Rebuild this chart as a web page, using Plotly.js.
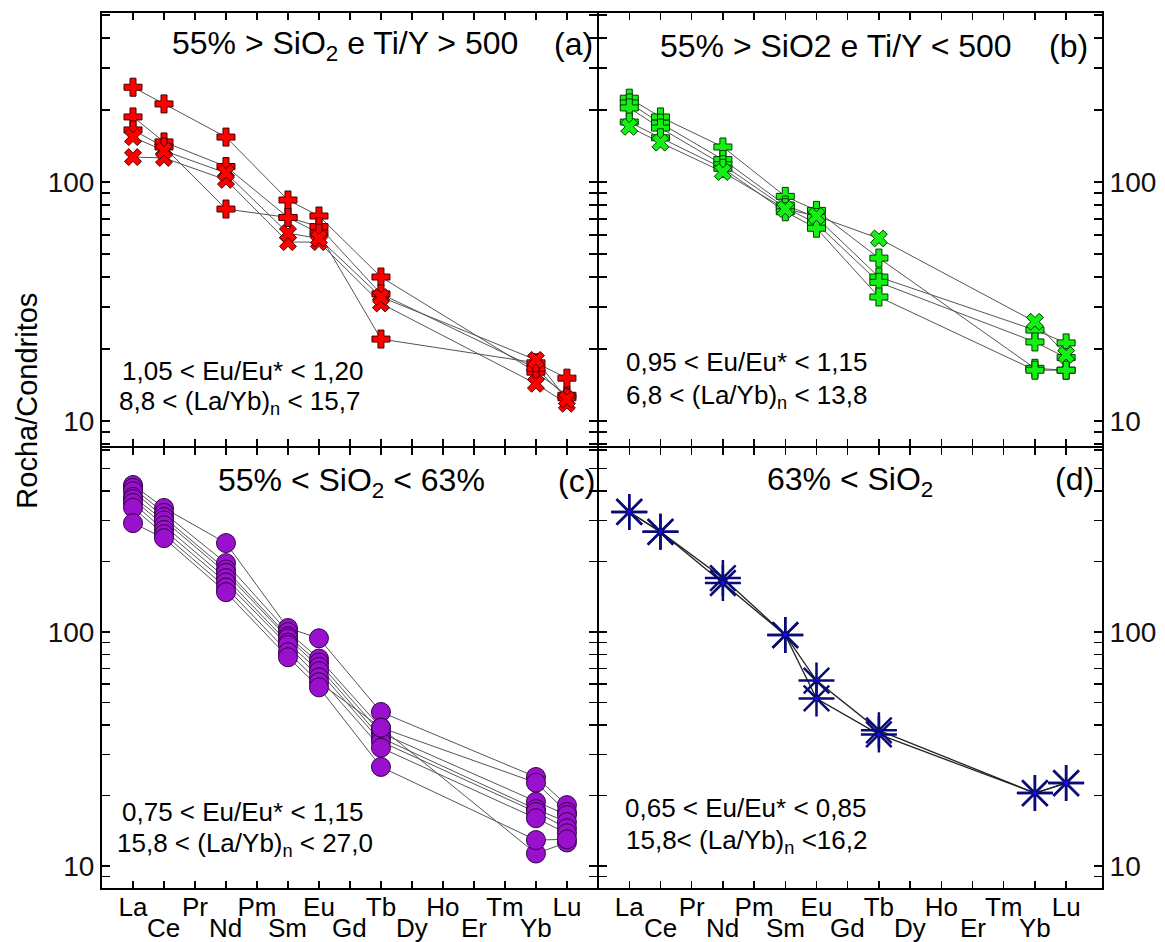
<!DOCTYPE html>
<html>
<head>
<meta charset="utf-8">
<script src="https://cdn.plot.ly/plotly-3.0.1.min.js"></script>
<style>html,body{margin:0;padding:0;background:#fff;}#chart{width:1165px;height:942px;}</style>
</head>
<body>
<div id="chart"></div>
<script>
// ---------- data ----------
const ELEMENTS = ['La','Ce','Pr','Nd','Pm','Sm','Eu','Gd','Tb','Dy','Ho','Er','Tm','Yb','Lu'];
const MEASURED = ['La','Ce','Nd','Sm','Eu','Tb','Yb','Lu'];

// Panel (a): 55% > SiO2 e Ti/Y > 500
const A_CROSS_1 = [249, 212, 154, 84, 72, 40, 16.0, 12.8];
const A_CROSS_2 = [187, 147, 116, 71, 65, 34, 16.6, 12.5];
const A_CROSS_3 = [165, 140, 77, 71, 61, 22, 17.5, 15.1];
const A_X_1     = [127, 126, 102, 56, 56, 31, 14.3, 11.8];
const A_X_2     = [154, 135, 109, 61, 58, 33, 18.0, 12.3];

// Panel (b): 55% > SiO2 e Ti/Y < 500
const B_CROSS_1 = [224, 187, 140, 87, 76, 48, 16.6, 16.3];
const B_CROSS_2 = [214, 176, 124, 80, 71, 40, 24.0, 21.2];
const B_CROSS_3 = [204, 168, 118, 78, 67, 38, 21.4, 18.4];
const B_CROSS_4 = [178, 153, 114, 75, 64, 33, 16.3, 16.3];
const B_X_1     = [170, 146, 110, 77, 72, 58, 26.0, 18.9];

// Panel (c): 55% < SiO2 < 63%
const C_1 = [425, 339, 240, 104, 94, 45.5, 24.0, 18.2];
const C_2 = [413, 323, 197, 100, 77, 39, 22.7, 17.0];
const C_3 = [400, 310, 185, 96, 74, 37, 18.8, 16.5];
const C_4 = [378, 300, 179, 94, 71, 35.3, 17.5, 15.4];
const C_5 = [370, 286, 170, 90, 68, 34, 17.0, 14.5];
const C_6 = [356, 273, 163, 88, 64, 32, 16.0, 13.8];
const C_7 = [340, 262, 155, 82, 61, 39, 11.3, 12.6];
const C_8 = [292, 252, 148, 78, 58, 26.5, 12.9, 13.0];

// Panel (d): 63% < SiO2
const D_1 = [326, 268, 170, 97, 62, 38, 20.5, 22.6];
const D_2 = [326, 268, 162, 97, 52, 36.5, 20.5, 22.6];

// tick labels
const ROW1_IDX = [0,2,4,6,8,10,12,14];
const ROW2_IDX = [1,3,5,7,9,11,13];
const Y_TICKS = [10, 100];
const Y_TICK_TEXT = ['10', '100'];
const Y_MINOR = [8, 9, 20, 30, 40, 50, 60, 70, 80, 90, 200, 300, 400, 500, 600];

// ---------- build ----------
const FONT = 'Liberation Sans, Arial, Helvetica, sans-serif';
const xIdx = MEASURED.map(e => ELEMENTS.indexOf(e));

const panels = [
  {xa:'x', ya:'y', lineColor:'#555', lineW:1, samples:[
    {v:A_CROSS_1, sym:'cross'}, {v:A_CROSS_2, sym:'cross'}, {v:A_CROSS_3, sym:'cross'},
    {v:A_X_1, sym:'x'}, {v:A_X_2, sym:'x'}],
    marker:{size:15, color:'#ff0000', line:{color:'rgb(70,0,0)', width:1}}},
  {xa:'x2', ya:'y2', lineColor:'#555', lineW:1, samples:[
    {v:B_CROSS_1, sym:'cross'}, {v:B_CROSS_2, sym:'cross'}, {v:B_CROSS_3, sym:'cross'},
    {v:B_CROSS_4, sym:'cross'}, {v:B_X_1, sym:'x'}],
    marker:{size:15, color:'rgb(20,240,20)', line:{color:'rgb(0,60,0)', width:1}}},
  {xa:'x3', ya:'y3', lineColor:'#555', lineW:1, samples:[
    C_1, C_2, C_3, C_4, C_5, C_6, C_7, C_8].map(v => ({v:v, sym:'circle'})),
    marker:{size:19, color:'rgb(153,17,204)', line:{color:'rgb(50,0,70)', width:1}}},
  {xa:'x4', ya:'y4', lineColor:'#222', lineW:1.3, samples:[
    {v:D_1, sym:'asterisk-open'}, {v:D_2, sym:'asterisk-open'}],
    marker:{size:30, color:'rgb(10,10,120)', line:{color:'rgb(10,10,120)', width:2.5}}}
];

const lineTraces = [], markerTraces = [];
panels.forEach(p => {
  p.samples.forEach(s => {
    lineTraces.push({type:'scatter', mode:'lines', x:xIdx, y:s.v, xaxis:p.xa, yaxis:p.ya,
      line:{color:p.lineColor, width:p.lineW}, hoverinfo:'skip'});
    markerTraces.push({type:'scatter', mode:'markers', x:xIdx, y:s.v, xaxis:p.xa, yaxis:p.ya,
      marker:Object.assign({}, p.marker, {symbol:s.sym}), hoverinfo:'x+y'});
    if (s.sym === 'asterisk-open') {
      markerTraces.push({type:'scatter', mode:'markers', x:xIdx, y:s.v, xaxis:p.xa, yaxis:p.ya,
        marker:{size:4, color:'#1010ff'}, hoverinfo:'skip'});
    }
  });
});

const xbase = {
  tickmode:'array', tickvals:ROW1_IDX, ticktext:ROW1_IDX.map(i => ELEMENTS[i]),
  ticks:'inside', ticklen:7, tickwidth:1.5, tickcolor:'#000', ticklabelstandoff:-5,
  minor:{tickvals:ROW2_IDX, ticks:'inside', ticklen:7, tickwidth:1.5, tickcolor:'#000', showgrid:false},
  showline:true, linewidth:2, linecolor:'#000', mirror:'ticks',
  showgrid:false, zeroline:false, tickfont:{size:26, family:FONT, color:'#000'}, fixedrange:true
};
const ybase = {
  type:'log', tickmode:'array', tickvals:Y_TICKS, ticktext:Y_TICK_TEXT,
  ticks:'inside', ticklen:8, tickwidth:1.5, tickcolor:'#000',
  minor:{tickvals:Y_MINOR, ticks:'inside', ticklen:8, tickwidth:1.5, tickcolor:'#000', showgrid:false},
  showline:true, linewidth:2, linecolor:'#000', mirror:'ticks',
  showgrid:false, zeroline:false, tickfont:{size:28, family:FONT, color:'#111'}, fixedrange:true
};
const TOP_RANGE = [Math.log10(7.85), Math.log10(509)];
const BOT_RANGE = [Math.log10(8.05), Math.log10(612)];
const XL = [-1, 14.97], XR = [-0.97, 15.15];

const ann = (text, x, y, size, xanchor) => ({text:text, x:x, y:y, xref:'paper', yref:'paper',
  xanchor:xanchor || 'center', yanchor:'middle', showarrow:false, font:{size:size, family:FONT, color:'#000'}});

// second (staggered) row of element labels, placed on the category positions of x3 / x4
const row2Labels = [];
['x3', 'x4'].forEach(xr => {
  ROW2_IDX.forEach(i => {
    row2Labels.push({text:ELEMENTS[i], x:i, xref:xr, y:-0.0457, yref:'paper',
      xanchor:'center', yanchor:'middle', showarrow:false, font:{size:26, family:FONT, color:'#000'}});
  });
});

const layout = {
  width:1165, height:942, margin:{l:102, r:63, t:13, b:54},
  paper_bgcolor:'#fff', plot_bgcolor:'#fff', showlegend:false,
  font:{family:FONT, color:'#000'},
  xaxis:  Object.assign({}, xbase, {domain:[0,0.495], anchor:'y',  range:XL, showticklabels:false}),
  xaxis2: Object.assign({}, xbase, {domain:[0.497,1], anchor:'y2', range:XR, showticklabels:false}),
  xaxis3: Object.assign({}, xbase, {domain:[0,0.495], anchor:'y3', range:XL}),
  xaxis4: Object.assign({}, xbase, {domain:[0.497,1], anchor:'y4', range:XR}),
  yaxis:  Object.assign({}, ybase, {domain:[0.5051,1], anchor:'x',  range:TOP_RANGE, side:'left'}),
  yaxis2: Object.assign({}, ybase, {domain:[0.5051,1], anchor:'x2', range:TOP_RANGE, side:'right'}),
  yaxis3: Object.assign({}, ybase, {domain:[0,0.5029], anchor:'x3', range:BOT_RANGE, side:'left'}),
  yaxis4: Object.assign({}, ybase, {domain:[0,0.5029], anchor:'x4', range:BOT_RANGE, side:'right'}),
  annotations:[
    ann('55% > SiO<sub>2</sub> e Ti/Y > 500', 0.243, 0.963, 32),
    ann('(a)', 0.471, 0.965, 32),
    ann('55% > SiO2 e Ti/Y < 500', 0.734, 0.962, 32),
    ann('(b)', 0.966, 0.962, 32),
    ann('55% < SiO<sub>2</sub> < 63%', 0.249, 0.463, 32),
    ann('(c)', 0.474, 0.465, 32),
    ann('63% < SiO<sub>2</sub>', 0.748, 0.465, 32),
    ann('(d)', 0.972, 0.467, 32),
    ann('1,05 < Eu/Eu* < 1,20', 0.018, 0.591, 26, 'left'),
    ann('8,8 < (La/Yb)<sub>n</sub> < 15,7', 0.015, 0.555, 26, 'left'),
    ann('0,95 < Eu/Eu* < 1,15', 0.522, 0.6006, 26, 'left'),
    ann('6,8 < (La/Yb)<sub>n</sub> < 13,8', 0.522, 0.562, 26, 'left'),
    ann('0,75 < Eu/Eu* < 1,15', 0.018, 0.0874, 26, 'left'),
    ann('15,8 < (La/Yb)<sub>n</sub> < 27,0', 0.013, 0.050, 26, 'left'),
    ann('0,65 < Eu/Eu* < 0,85', 0.521, 0.092, 26, 'left'),
    ann('15,8< (La/Yb)<sub>n</sub> <16,2', 0.522, 0.0535, 26, 'left'),
    Object.assign(ann('Rocha/Condritos', -0.075, 0.557, 29), {textangle:-90})
  ].concat(row2Labels)
};

Plotly.newPlot('chart', lineTraces.concat(markerTraces), layout, {displayModeBar:false, staticPlot:true});
</script>
</body>
</html>
